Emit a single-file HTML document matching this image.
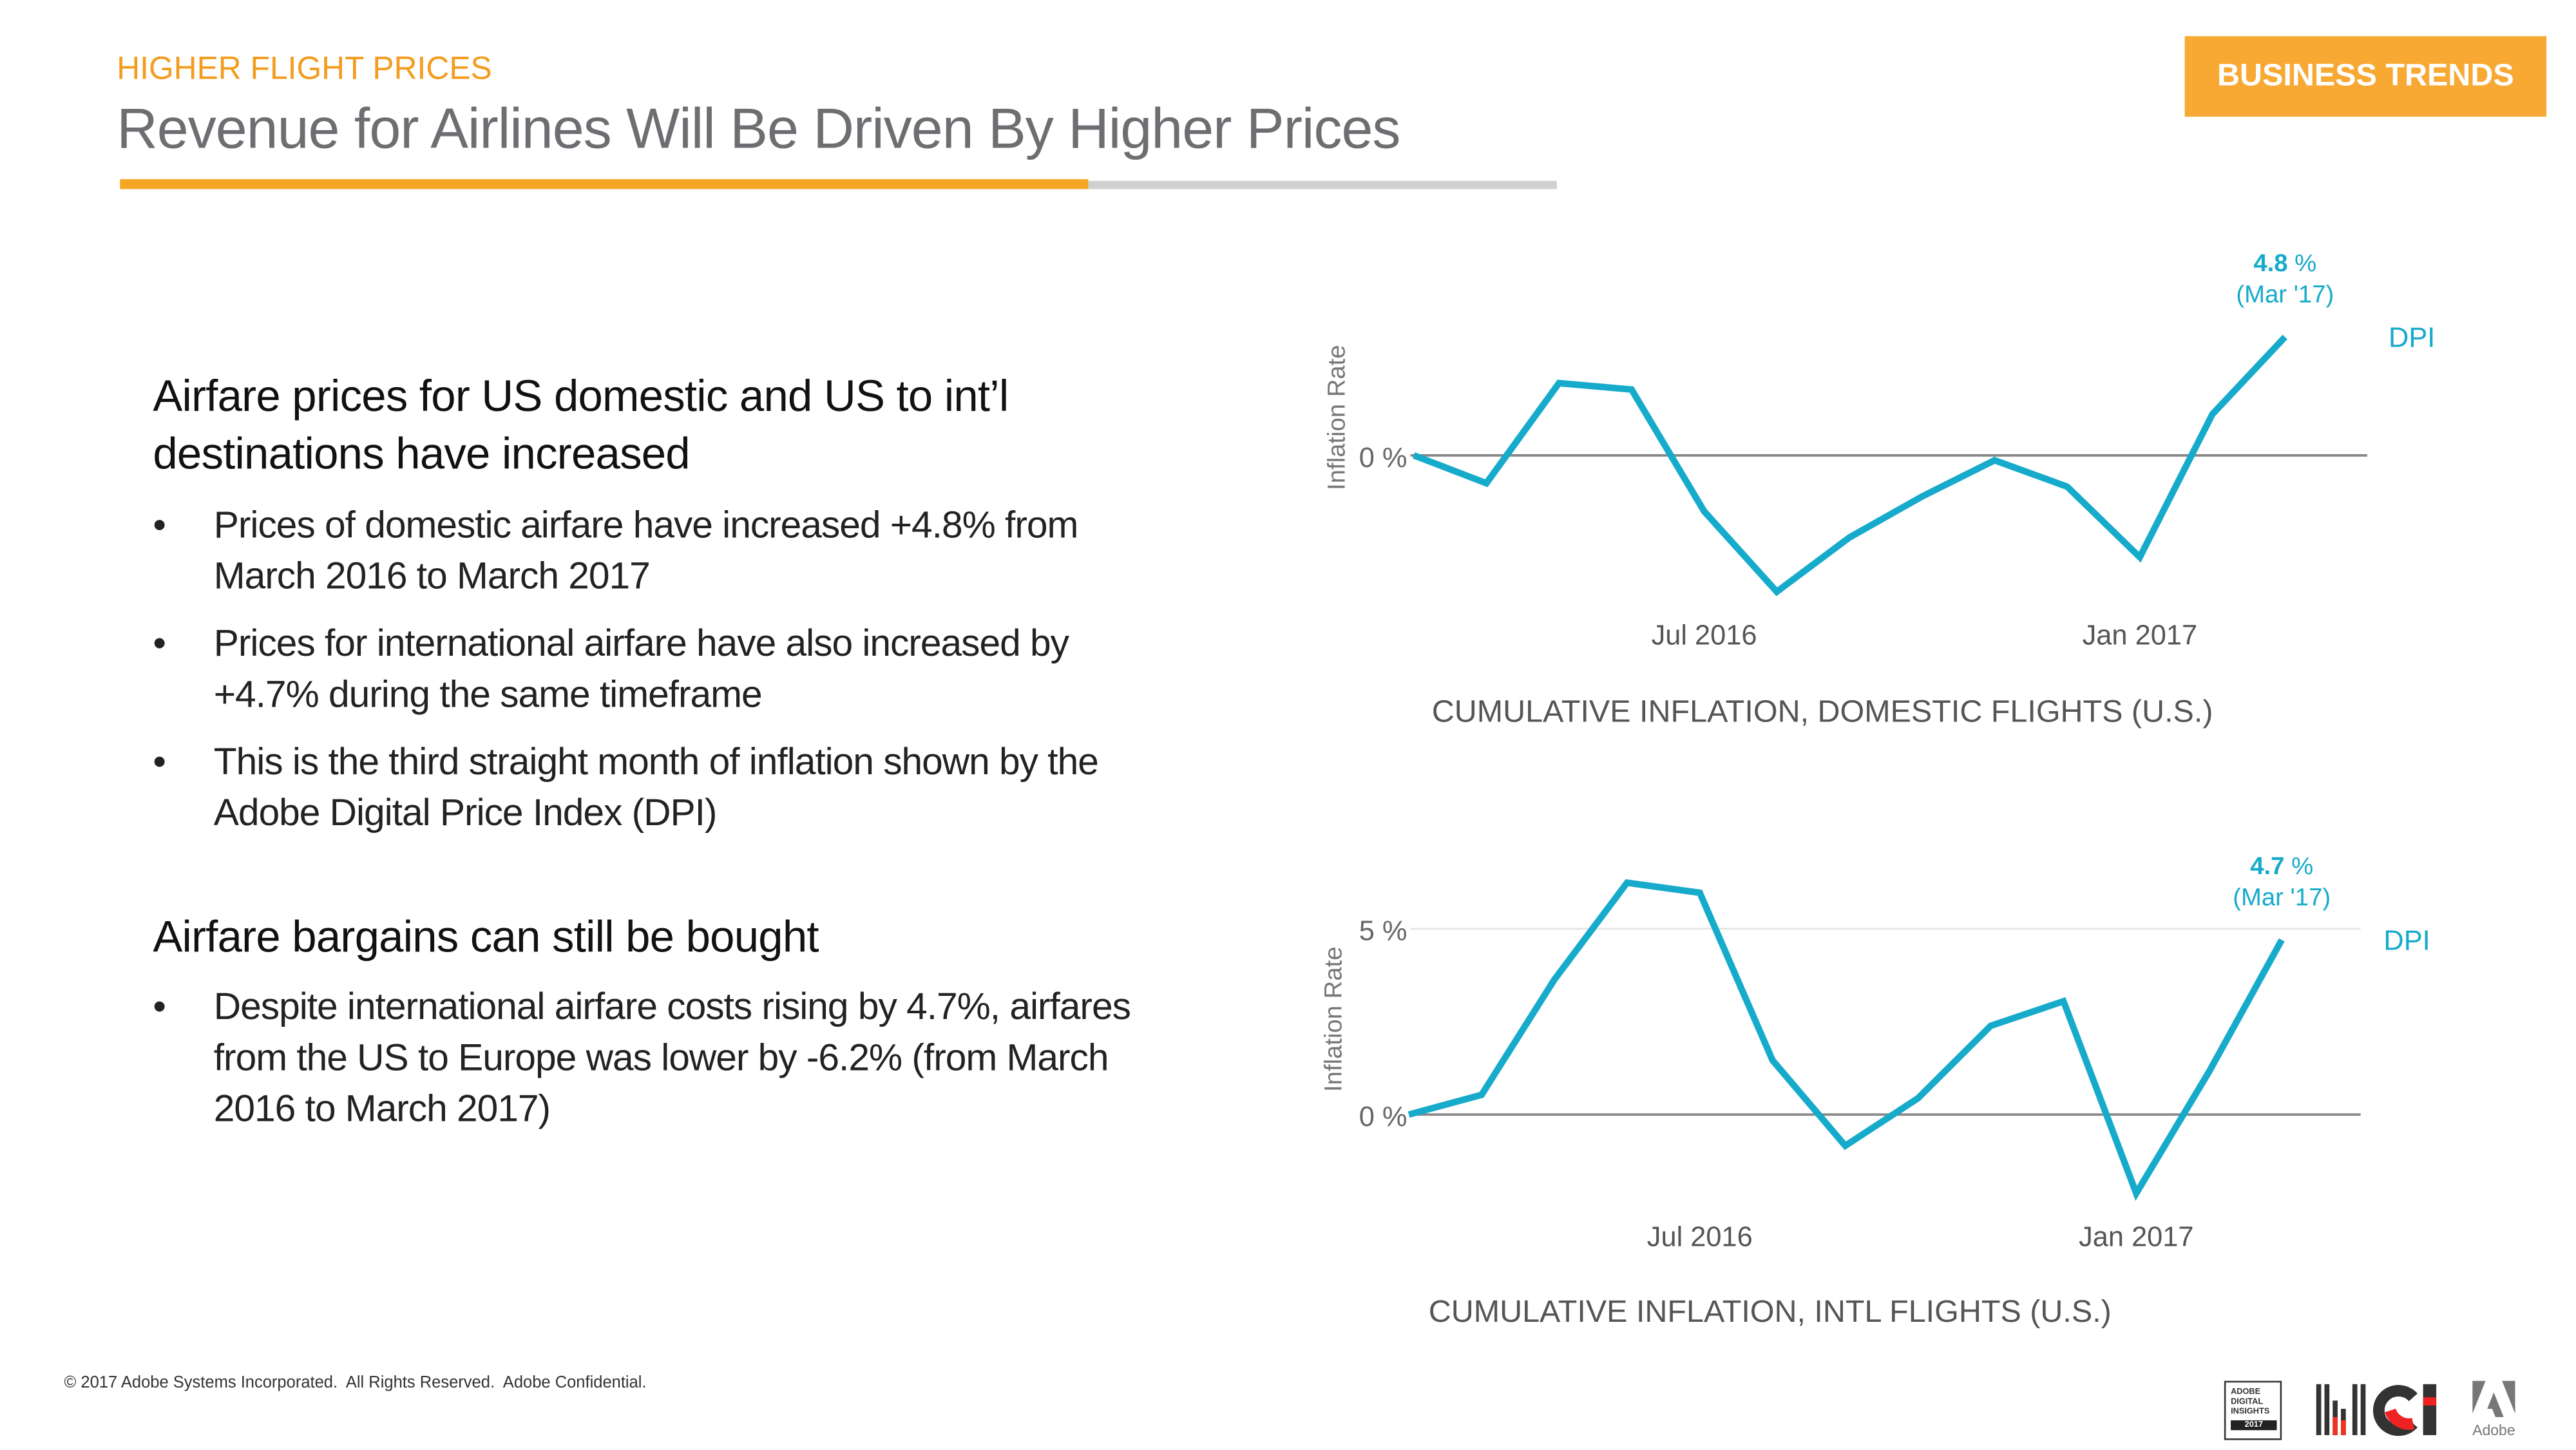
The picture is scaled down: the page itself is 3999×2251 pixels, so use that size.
<!DOCTYPE html>
<html><head><meta charset="utf-8"><style>
html,body{margin:0;padding:0;background:#fff;}
body{width:3999px;height:2250px;overflow:hidden;position:relative;}
#wrap{position:absolute;left:0;top:0;width:1567px;height:882px;transform:scale(2.552);transform-origin:0 0;font-family:"Liberation Sans",sans-serif;}
.abs{position:absolute;}
ul{margin:0;padding:0;list-style:none;}
li{position:relative;padding-left:37px;font-size:23px;color:#222;line-height:31px;margin-bottom:10px;letter-spacing:-0.4px;white-space:nowrap;}
li:before{content:"•";position:absolute;left:0;}
h2{margin:0;font-weight:normal;font-size:27px;color:#111;line-height:35px;letter-spacing:-0.3px;}
</style></head><body>
<div id="wrap">
<div class="abs" style="left:71px;top:31px;font-size:19.5px;color:#f39c1f;">HIGHER FLIGHT PRICES</div>
<div class="abs" style="left:71px;top:60px;font-size:34.5px;color:#6d6e71;letter-spacing:-0.4px;">Revenue for Airlines Will Be Driven By Higher Prices</div>
<div class="abs" style="left:662px;top:110px;width:285px;height:5px;background:#d0d0d0;"></div>
<div class="abs" style="left:73px;top:109px;width:589px;height:6px;background:#f5a623;"></div>
<div class="abs" style="left:1329px;top:22px;width:220px;height:49px;background:#f7a934;color:#fff;font-weight:bold;font-size:19px;line-height:49px;text-align:center;">BUSINESS TRENDS</div>

<div class="abs" style="left:93px;top:224px;width:640px;">
<h2>Airfare prices for US domestic and US to int’l destinations have increased</h2>
<ul style="margin-top:10px;">
<li>Prices of domestic airfare have increased +4.8% from<br>March 2016 to March 2017</li>
<li>Prices for international airfare have also increased by<br>+4.7% during the same timeframe</li>
<li>This is the third straight month of inflation shown by the<br>Adobe Digital Price Index (DPI)</li>
</ul>
<h2 style="margin-top:43px;">Airfare bargains can still be bought</h2>
<ul style="margin-top:9px;">
<li>Despite international airfare costs rising by 4.7%, airfares<br>from the US to Europe was lower by -6.2% (from March<br>2016 to March 2017)</li>
</ul>
</div>

<svg class="abs" style="left:0;top:0" width="1567" height="882" id="charts"></svg>

<div class="abs" style="left:39px;top:836px;font-size:10px;color:#333;">© 2017 Adobe Systems Incorporated.&nbsp; All Rights Reserved.&nbsp; Adobe Confidential.</div>

<div class="abs" style="left:1353px;top:840px;width:35px;height:36px;border:1.5px solid #333;font-size:5px;font-weight:bold;color:#333;line-height:6px;padding:3px 0 0 3px;box-sizing:border-box;">ADOBE<br>DIGITAL<br>INSIGHTS<div style="background:#222;color:#fff;text-align:center;margin:2px 2px 0 0;">2017</div></div>
<svg class="abs" style="left:1408px;top:840px" width="80" height="35">
<g fill="#333"><rect x="1" y="2" width="3" height="31"/><rect x="6" y="2" width="3" height="31"/><rect x="23" y="2" width="3" height="31"/><rect x="28" y="2" width="3" height="31"/></g>
<g><rect x="11" y="12" width="3" height="21" fill="#333"/><rect x="16" y="17" width="3" height="16" fill="#333"/><rect x="11" y="22" width="3" height="11" fill="#e32"/><rect x="16" y="24" width="3" height="9" fill="#e32"/></g>
<path d="M60 10 A12 12 0 1 0 60 26" stroke="#333" stroke-width="7" fill="none"/>
<path d="M46 18 A12 12 0 0 0 60 26" stroke="#e22" stroke-width="7" fill="none"/>
<rect x="66" y="2" width="8" height="31" fill="#333"/><rect x="66" y="10" width="8" height="5" fill="#e22"/>
</svg>
<svg class="abs" style="left:1504px;top:840px" width="26" height="35">
<path d="M0 0H8L0 20Z M18 0H26V20Z M13 7L19 22H14L12 17H9Z" fill="#777"/>
<text x="13" y="33" font-size="9" fill="#777" text-anchor="middle" font-family="Liberation Sans">Adobe</text>
</svg>
</div>
<script>
const months=['Mar 2016','Apr 2016','May 2016','Jun 2016','Jul 2016','Aug 2016','Sep 2016','Oct 2016','Nov 2016','Dec 2016','Jan 2017','Feb 2017','Mar 2017'];
const domesticValues=[0,-1.13,2.93,2.67,-2.27,-5.53,-3.33,-1.67,-0.2,-1.27,-4.13,1.67,4.8];
const intlValues=[0,0.53,3.63,6.24,5.97,1.46,-0.84,0.44,2.39,3.05,-2.12,1.15,4.7];
const xTickLabels=['Jul 2016','Jan 2017'];
const xTickIndex=[4,10];
const domesticYTicks=[0];
const intlYTicks=[0,5];
const NS='http://www.w3.org/2000/svg';
const svg=document.getElementById('charts');
function mk(tag,attrs,parent){const e=document.createElementNS(NS,tag);for(const k in attrs)e.setAttribute(k,attrs[k]);(parent||svg).appendChild(e);return e;}
function drawChart(cfg){
  const g=mk('g',{});
  
  
  const xs=i=>cfg.x0+i*(cfg.x1-cfg.x0)/(months.length-1);
  const ys=v=>cfg.zeroY-v*cfg.pxPer;
  cfg.yTicks.forEach(t=>{
    const l=mk('line',{x1:858,x2:cfg.gridEnd,y1:ys(t),y2:ys(t),stroke:t===0?'#888':'#e6e6e6','stroke-width':t===0?1.5:1.2},g);
    
    
    const tx=mk('text',{x:856,y:ys(t)+7,'font-size':17,fill:'#666','text-anchor':'end','font-family':'Liberation Sans'},g);
    tx.textContent=t+' %';
    
    
  });
  const ya=mk('text',{transform:`translate(${cfg.yTitleX},${cfg.yTitleY}) rotate(-90)`,'font-size':15,fill:'#777','text-anchor':'middle','font-family':'Liberation Sans'},g);
  ya.textContent='Inflation Rate';
  
  
  xTickIndex.forEach((idx,k)=>{
    const tx=mk('text',{x:xs(idx),y:cfg.xLabelY,'font-size':17,fill:'#555','text-anchor':'middle','font-family':'Liberation Sans'},g);
    tx.textContent=xTickLabels[k];
    
    
  });
  const pts=cfg.values.map((v,i)=>xs(i)+','+ys(v)).join(' ');
  const pl=mk('polyline',{points:pts,fill:'none',stroke:'#16aacb','stroke-width':4,'stroke-linejoin':'miter'},g);
  
  
  const last=cfg.values[cfg.values.length-1];
  const lx=xs(cfg.values.length-1), ly=ys(last);
  const a1=mk('text',{x:lx,y:ly-40,'font-size':15,fill:'#16aacb','text-anchor':'middle','font-family':'Liberation Sans'},g);
  a1.innerHTML='<tspan font-weight="bold">'+last+'</tspan> %';
  
  
  const a2=mk('text',{x:lx,y:ly-21,'font-size':15,fill:'#16aacb','text-anchor':'middle','font-family':'Liberation Sans'},g);
  a2.textContent="(Mar '17)";
  
  
  const lg=mk('text',{x:cfg.legendX,y:ly+6,'font-size':17,fill:'#16aacb','font-family':'Liberation Sans'},g);
  lg.textContent='DPI';
  
  
  const tt=mk('text',{x:cfg.titleX,y:cfg.titleY,'font-size':19,fill:'#555','font-family':'Liberation Sans'},g);
  tt.textContent=cfg.title;
  
  
}
drawChart({name:'domestic-chart',values:domesticValues,yTicks:domesticYTicks,x0:860,x1:1390,zeroY:277,pxPer:15,gridEnd:1440,yTitleX:818,yTitleY:254,xLabelY:392,legendX:1453,titleX:871,titleY:439,title:'CUMULATIVE INFLATION, DOMESTIC FLIGHTS (U.S.)'});
drawChart({name:'intl-chart',values:intlValues,yTicks:intlYTicks,x0:857,x1:1388,zeroY:678,pxPer:22.6,gridEnd:1436,yTitleX:816,yTitleY:620,xLabelY:758,legendX:1450,titleX:869,titleY:804,title:'CUMULATIVE INFLATION, INTL FLIGHTS (U.S.)'});
</script>
</body></html>
